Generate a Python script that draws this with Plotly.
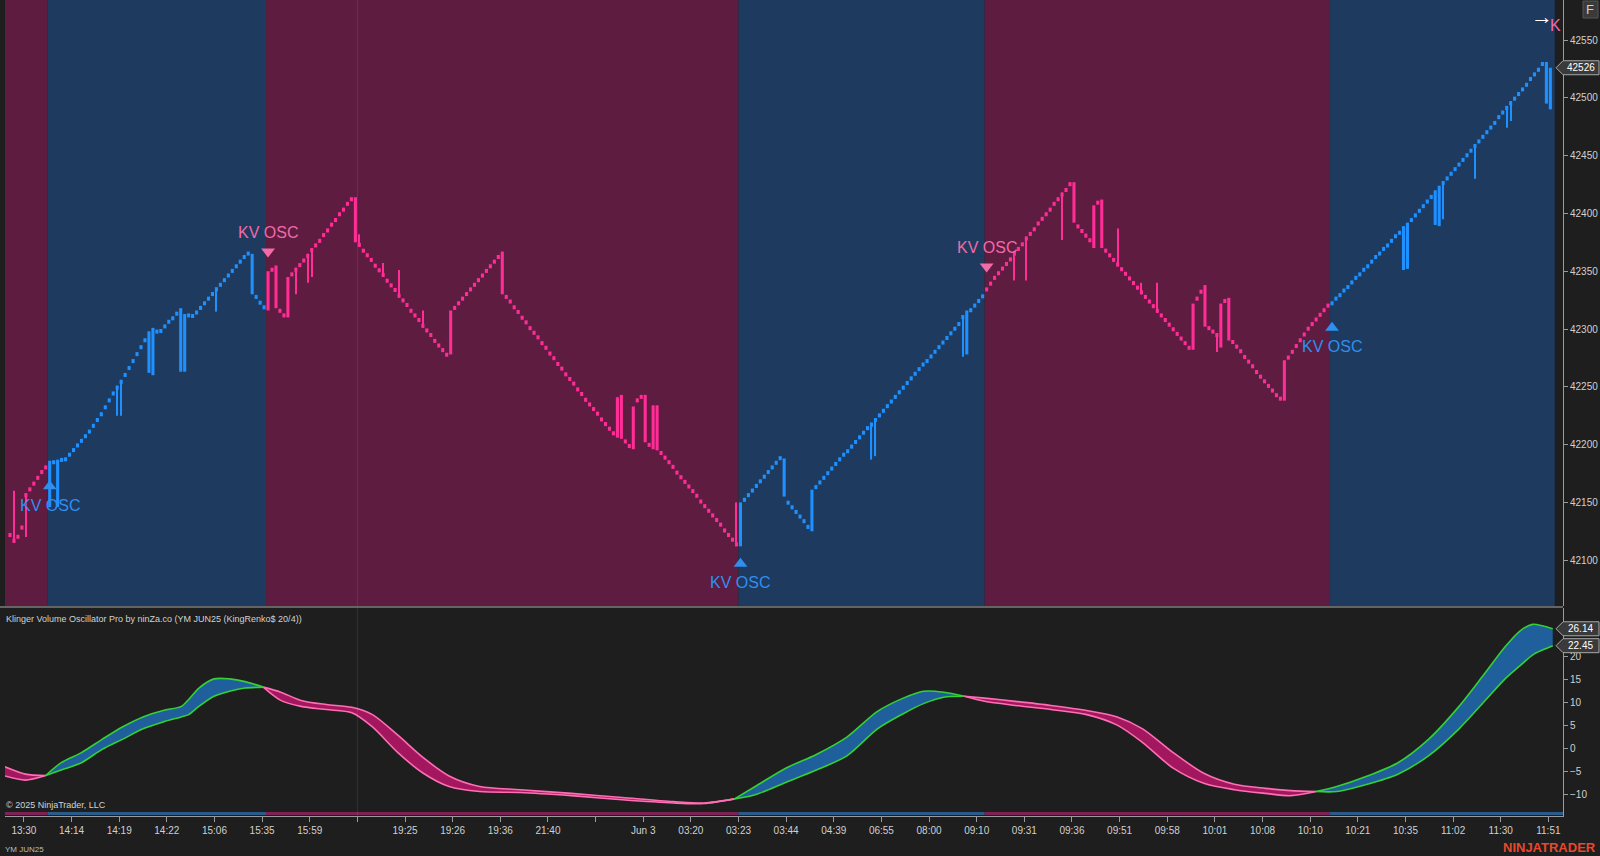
import plotly.graph_objects as go

# ---------------- DATA ----------------
# Renko (KingRenko) closes, one per bar
closes = [
    # zone 1 (sell)
    42120, 42115, 42122, 42130, 42158, 42163, 42168, 42173, 42178, 42182,
    # zone 2 (buy)
    42186, 42183, 42187, 42185, 42189, 42193, 42197, 42201, 42205, 42209,
    42213, 42218, 42223, 42228, 42234, 42240, 42246, 42251, 42256, 42262,
    42268, 42274, 42280, 42286, 42292, 42298, 42301, 42296, 42300, 42304,
    42308, 42311, 42315, 42318, 42313, 42310, 42313, 42316, 42320, 42324,
    42328, 42332, 42336, 42340, 42344, 42348, 42352, 42356, 42360, 42364,
    42367, 42330, 42326, 42321, 42317,
    # zone 3 (sell)
    42350, 42353, 42318, 42314, 42310, 42345, 42349, 42353, 42357, 42361,
    42365, 42370, 42374, 42378, 42383, 42387, 42392, 42396, 42401, 42405,
    42410, 42414, 42375, 42371, 42366, 42362, 42358, 42353, 42349, 42345,
    42340, 42336, 42332, 42327, 42323, 42319, 42314, 42310, 42306, 42301,
    42297, 42293, 42288, 42284, 42280, 42276, 42316, 42320, 42324, 42328,
    42332, 42336, 42340, 42344, 42348, 42352, 42356, 42360, 42364, 42330,
    42326, 42322, 42317, 42313, 42308, 42304, 42299, 42295, 42291, 42286,
    42282, 42277, 42273, 42268, 42264, 42259, 42255, 42251, 42246, 42242,
    42237, 42233, 42229, 42225, 42220, 42216, 42212, 42208, 42241, 42205,
    42201, 42197, 42233, 42240, 42243, 42202, 42198, 42234, 42195, 42191,
    42187, 42183, 42179, 42174, 42170, 42166, 42162, 42158, 42154, 42149,
    42145, 42141, 42137, 42133, 42129, 42124, 42120, 42116, 42112,
    # zone 4 (buy)
    42150, 42154, 42158, 42162, 42166, 42170, 42174, 42178, 42182, 42186,
    42190, 42155, 42148, 42144, 42140, 42136, 42132, 42127, 42161, 42165,
    42169, 42173, 42177, 42181, 42185, 42189, 42193, 42196, 42200, 42204,
    42208, 42212, 42216, 42219, 42223, 42227, 42231, 42235, 42239, 42243,
    42247, 42251, 42255, 42259, 42263, 42267, 42271, 42274, 42278, 42282,
    42286, 42290, 42294, 42298, 42302, 42306, 42312, 42316, 42318, 42322,
    42326, 42330,
    # zone 5 (sell)
    42336, 42341, 42346, 42350, 42354, 42358, 42362, 42367, 42371, 42375,
    42380, 42384, 42388, 42393, 42397, 42401, 42405, 42410, 42414, 42418,
    42422, 42427, 42392, 42387, 42383, 42379, 42375, 42407, 42411, 42370,
    42366, 42362, 42358, 42354, 42350, 42346, 42342, 42338, 42334, 42330,
    42326, 42322, 42318, 42314, 42310, 42306, 42302, 42298, 42294, 42290,
    42286, 42282, 42322, 42328, 42334, 42302, 42299, 42296, 42293, 42322,
    42326, 42290, 42287, 42283, 42279, 42274, 42270, 42266, 42261, 42257,
    42253, 42249, 42245, 42241, 42238, 42273, 42277, 42282, 42287, 42292,
    42297, 42302, 42306, 42310, 42314, 42318, 42322,
    # zone 6 (buy)
    42324, 42328, 42331, 42335, 42338, 42342, 42346, 42349, 42353, 42356,
    42360, 42364, 42367, 42371, 42374, 42378, 42382, 42385, 42389, 42392,
    42396, 42400, 42404, 42408, 42412, 42416, 42420, 42424, 42428, 42432,
    42436, 42440, 42444, 42448, 42452, 42456, 42460, 42464, 42468, 42472,
    42476, 42480, 42485, 42489, 42493, 42497, 42501, 42505, 42509, 42513,
    42518, 42522, 42526, 42531, 42495, 42526,
]
brick_size = 3.5
# bars whose body is longer than one brick: bar index / open price
long_idx = [10, 12, 35, 36, 43, 44, 61, 65, 67, 70, 87, 111, 124, 153, 154, 157,
            160, 162, 163, 184, 195, 202, 241, 268, 273, 275, 298, 301, 305, 307,
            321, 351, 352, 359, 360, 387, 388]
long_open = [42146, 42146, 42262, 42260, 42263, 42263, 42365, 42316, 42355, 42310,
             42414, 42278, 42367, 42206, 42243, 42196, 42243, 42196, 42234, 42112,
             42188, 42125, 42278, 42427, 42370, 42412, 42282, 42338, 42284, 42327,
             42238, 42351, 42352, 42390, 42389, 42531, 42490]
# bars with long wicks: bar index / wick end price
wick_idx = [1, 4, 27, 28, 52, 72, 75, 76, 88, 94, 98, 104, 183, 217, 218, 240,
            253, 256, 265, 279, 285, 289, 304, 361, 369, 377, 378]
wick_end = [42160, 42120, 42225, 42225, 42315, 42330, 42340, 42345, 42382, 42357,
            42351, 42316, 42150, 42187, 42190, 42276, 42342, 42342, 42377, 42387,
            42340, 42340, 42280, 42395, 42430, 42474, 42480]

# trend zones (first bar of each zone)
zone_start = [0, 10, 65, 184, 246, 333]
zone_kind = ["sell", "buy", "sell", "buy", "sell", "buy"]

# KV OSC signals
signal_idx = [10, 65, 184, 246, 333]
signal_kind = ["buy", "sell", "buy", "sell", "buy"]
signal_price = [42164, 42367, 42097, 42354, 42301]

# Klinger oscillator (fast line / signal line) sampled at bar positions
osc_x = [-1.3, 3.9, 9.0, 12.9, 18.0, 23.2, 28.3, 33.5, 38.6, 43.2, 45.0, 47.6, 51.4,
         55.3, 59.2, 63.8, 68.2, 73.3, 79.7, 86.1, 91.3, 97.7, 104.1, 110.6, 118.3,
         128.5, 141.4, 154.2, 167.1, 174.8, 182.5, 187.7, 195.4, 203.1, 210.8, 218.5,
         225.0, 230.1, 235.2, 240.4, 245.5, 253.2, 262.2, 271.2, 278.9, 285.3, 293.0,
         300.7, 308.4, 316.2, 322.6, 329.0, 334.2, 341.9, 349.6, 357.3, 365.0, 371.4,
         376.6, 380.4, 383.5, 386.0, 388.6]
osc_fast = [-6.0, -6.9, -5.9, -3.1, -0.9, 2.0, 4.7, 6.9, 8.3, 9.2, 10.7, 13.2, 15.2,
            15.2, 14.6, 13.4, 10.5, 9.2, 8.5, 7.8, 4.7, -0.9, -5.4, -8.3, -9.4,
            -9.6, -10.3, -11.2, -11.9, -12.0, -11.0, -8.3, -4.3, -1.3, 2.5, 8.1,
            11.0, 12.5, 12.3, 11.4, 10.3, 9.4, 8.5, 7.4, 5.1, 1.3, -4.3,
            -7.6, -9.0, -9.8, -10.3, -9.4, -8.3, -6.0, -3.1, 2.0, 9.2, 16.3,
            22.2, 25.7, 27.1, 26.8, 26.14]
osc_signal = [-4.0, -5.6, -5.9, -4.7, -3.1, -0.2, 2.0, 4.3, 5.8, 6.9, 7.4, 9.2, 11.4,
              12.5, 13.2, 13.4, 12.3, 10.5, 9.6, 9.0, 7.4, 2.9, -2.0, -6.0, -8.3,
              -9.0, -9.8, -10.7, -11.6, -11.9, -11.0, -10.1, -7.4, -4.7, -1.6, 4.3,
              7.6, 9.8, 11.2, 11.4, 11.0, 10.3, 9.4, 8.3, 6.9, 4.3, -0.9,
              -5.4, -7.8, -8.7, -9.2, -9.4, -9.4, -7.8, -5.6, -1.6, 4.3, 10.3,
              15.2, 18.1, 20.4, 21.5, 22.45]

price_ticks = [42100, 42150, 42200, 42250, 42300, 42350, 42400, 42450, 42500, 42550]
osc_ticks = [-10, -5, 0, 5, 10, 15, 20]
time_labels = ["13:30", "14:14", "14:19", "14:22", "15:06", "15:35", "15:59", "",
               "19:25", "19:26", "19:36", "21:40", "", "Jun 3", "03:20", "03:23",
               "03:44", "04:39", "06:55", "08:00", "09:10", "09:31", "09:36", "09:51",
               "09:58", "10:01", "10:08", "10:10", "10:21", "10:35", "11:02", "11:30",
               "11:51"]
session_break_idx = 87.5
last_price = 42526
last_fast = 26.14
last_signal = 22.45

# ---------------- STYLE ----------------
BG = "#1e1e1e"
ZONE_BG = {"buy": "#1e3a5e", "sell": "#5d1c40"}
STRIP = {"buy": "#2a5b8a", "sell": "#7d2255"}
BRICK = {"buy": "#1e90ff", "sell": "#ff2d95"}
SIG = {"buy": "#2f8ff0", "sell": "#f26aa8"}
FONT = "Liberation Sans, Arial, sans-serif"

W, H = 1600, 856
ML, MR, MT, MB = 5, 37, 0, 40
PW, PH = W - ML - MR, H - MT - MB          # 1558 x 816
X0, DX = 10.0, 3.97                        # px of bar 0, px per bar


def px_to_idx(p):
    return (p - X0) / DX


def px_to_paperx(p):
    return (p - ML) / PW


def px_to_papery(p):
    return (PH - (p - MT)) / PH


x_range = [px_to_idx(ML), px_to_idx(ML + PW)]
top_dom = [(PH - 606) / PH, 1.0]
bot_dom = [0.0, (PH - 608) / PH]
ppp = 1.156                                # px per price point
y_range = [42550 - (606 - 40) / ppp, 42550 + 40 / ppp]
opu = 4.58                                 # px per osc unit
zero_px = 748.5
y2_range = [-(816 - zero_px) / opu, (zero_px - 608) / opu]

n = len(closes)
idx = list(range(n))


def zone_of(i):
    k = 0
    for j, s in enumerate(zone_start):
        if i >= s:
            k = j
    return zone_kind[k]


opens = []
for i, c in enumerate(closes):
    prev = closes[i - 1] if i else c + brick_size
    d = 1 if c >= prev else -1
    opens.append(c - d * brick_size)
for i, o in zip(long_idx, long_open):
    opens[i] = o

body_lo = [min(o, c) for o, c in zip(opens, closes)]
body_hi = [max(o, c) for o, c in zip(opens, closes)]
colors = [BRICK[zone_of(i)] for i in idx]

fig = go.Figure()

# bodies
fig.add_trace(go.Bar(x=idx, y=[h - l for h, l in zip(body_hi, body_lo)], base=body_lo,
                     width=0.78, marker=dict(color=colors, line=dict(width=0)),
                     xaxis="x", yaxis="y", hoverinfo="skip", showlegend=False))
# wicks
w_lo = [min(body_lo[i], e) for i, e in zip(wick_idx, wick_end)]
w_hi = [max(body_hi[i], e) for i, e in zip(wick_idx, wick_end)]
fig.add_trace(go.Bar(x=wick_idx, y=[h - l for h, l in zip(w_hi, w_lo)], base=w_lo,
                     width=0.3, marker=dict(color=[colors[i] for i in wick_idx], line=dict(width=0)),
                     xaxis="x", yaxis="y", hoverinfo="skip", showlegend=False))

# signal triangles
for kind in ("buy", "sell"):
    xs = [i for i, k in zip(signal_idx, signal_kind) if k == kind]
    ys = [p for p, k in zip(signal_price, signal_kind) if k == kind]
    fig.add_trace(go.Scatter(x=xs, y=ys, mode="markers", xaxis="x", yaxis="y",
                             marker=dict(symbol="triangle-up" if kind == "buy" else "triangle-down",
                                         size=12, color=SIG[kind], line=dict(width=0)),
                             hoverinfo="skip", showlegend=False))

# oscillator ribbon, split at crossings
cross = [k for k in range(len(osc_x)) if abs(osc_fast[k] - osc_signal[k]) < 1e-9]
bounds = sorted(set([0] + cross + [len(osc_x) - 1]))
for a, b in zip(bounds[:-1], bounds[1:]):
    xs = osc_x[a:b + 1]
    f = osc_fast[a:b + 1]
    s = osc_signal[a:b + 1]
    up = sum(fv - sv for fv, sv in zip(f, s)) > 0
    lc = "#35d035" if up else "#ff6eb4"
    fc = "#1f5f9c" if up else "#a3175e"
    fig.add_trace(go.Scatter(x=xs, y=s, mode="lines", line=dict(color=lc, width=1.6, shape="spline", smoothing=0.8),
                             xaxis="x2", yaxis="y2", hoverinfo="skip", showlegend=False))
    fig.add_trace(go.Scatter(x=xs, y=f, mode="lines", line=dict(color=lc, width=1.6, shape="spline", smoothing=0.8),
                             fill="tonexty", fillcolor=fc,
                             xaxis="x2", yaxis="y2", hoverinfo="skip", showlegend=False))

shapes = []
# zone backgrounds + bottom strip
edges = zone_start + [n]
for j, kind in enumerate(zone_kind):
    x0 = edges[j] - 0.5 if j else x_range[0] - 1
    last = j + 1 == len(zone_kind)
    x1 = n + 0.1 if last else edges[j + 1] - 0.5
    shapes.append(dict(type="rect", xref="x", yref="y domain", x0=x0, x1=x1, y0=0, y1=1,
                       fillcolor=ZONE_BG[kind], line=dict(width=0), layer="below"))
    shapes.append(dict(type="rect", xref="x2", yref="y2 domain", x0=x0, x1=x_range[1] if last else x1,
                       y0=1 / 208, y1=4 / 208, fillcolor=STRIP[kind], line=dict(width=0), layer="above"))
# session break
shapes.append(dict(type="line", xref="x", yref="paper", x0=session_break_idx, x1=session_break_idx,
                   y0=0, y1=1, line=dict(color="rgba(255,255,255,0.09)", width=1), layer="above"))
# panel separator
sep_y = px_to_papery(607)
shapes.append(dict(type="line", xref="paper", yref="paper", x0=px_to_paperx(0), x1=1,
                   y0=sep_y, y1=sep_y, line=dict(color="#7c7c7c", width=1.5)))


def tag(yref, val, half):
    xt, xl, xr = px_to_paperx(1556), px_to_paperx(1563), px_to_paperx(1599)
    return dict(type="path", xref="paper", yref=yref,
                path=f"M {xt},{val} L {xl},{val + half} L {xr},{val + half} L {xr},{val - half} L {xl},{val - half} Z",
                fillcolor="#3a3a3a", line=dict(color="#a8a8a8", width=1))


shapes.append(tag("y", last_price, 7 / ppp))
shapes.append(tag("y2", last_fast, 7 / opu))
shapes.append(tag("y2", last_signal, 7 / opu))
# "F" button box at the top-right corner
shapes.append(dict(type="rect", xref="paper", yref="paper",
                   x0=px_to_paperx(1583), x1=px_to_paperx(1598),
                   y0=px_to_papery(18), y1=px_to_papery(1),
                   fillcolor="#3a3a3a", line=dict(color="#555555", width=1)))


def ann(x, y, text, size, color, xanchor="center", xref="paper", yref="paper", **kw):
    d = dict(x=x, y=y, xref=xref, yref=yref, text=text, showarrow=False,
             xanchor=xanchor, yanchor="middle", font=dict(family=FONT, size=size, color=color))
    d.update(kw)
    return d


annotations = []
for i, k, p in zip(signal_idx, signal_kind, signal_price):
    annotations.append(ann(i, p, "KV OSC", 16, SIG[k], xref="x", yref="y",
                           yshift=-19 if k == "buy" else 19))
for yref, val, txt in (("y", last_price, f"{last_price}"), ("y2", last_fast, f"{last_fast:.2f}"),
                       ("y2", last_signal, f"{last_signal:.2f}")):
    annotations.append(ann(px_to_paperx(1581), val, txt, 10, "#ffffff", yref=yref))
annotations += [
    ann(px_to_paperx(4), px_to_papery(619),
        "Klinger Volume Oscillator Pro by ninZa.co (YM JUN25 (KingRenko$ 20/4))", 9, "#d2d2d2", xanchor="left"),
    ann(px_to_paperx(4), px_to_papery(805), "© 2025 NinjaTrader, LLC", 9, "#d2d2d2", xanchor="left"),
    ann(px_to_paperx(3), px_to_papery(849), "YM JUN25", 8, "#bdbdbd", xanchor="left"),
    ann(px_to_paperx(1598), px_to_papery(847), "<b>NINJATRADER</b>", 13, "#e8482c", xanchor="right"),
    ann(px_to_paperx(1590.5), px_to_papery(9.5), "F", 13, "#d0d0d0"),
    ann(px_to_paperx(1542), px_to_papery(16), "→", 22, "#ffffff"),
    ann(px_to_paperx(1555), px_to_papery(25), "K", 16, SIG["sell"]),
]

axis_common = dict(showgrid=False, zeroline=False)
fig.update_layout(
    width=W, height=H, margin=dict(l=ML, r=MR, t=MT, b=MB),
    paper_bgcolor=BG, plot_bgcolor=BG, barmode="overlay", showlegend=False,
    hovermode=False, font=dict(family=FONT, color="#d0d0d0"),
    xaxis=dict(domain=[0, 1], anchor="y", range=x_range, showticklabels=False, ticks="",
               matches="x2", **axis_common),
    xaxis2=dict(domain=[0, 1], anchor="y2", range=x_range,
                tickvals=[3.5 + 12 * k for k in range(len(time_labels))], ticktext=time_labels,
                ticks="outside", ticklen=5, tickcolor="#9a9a9a", showline=True, linecolor="#9a9a9a",
                tickfont=dict(family=FONT, size=10, color="#d0d0d0"), **axis_common),
    yaxis=dict(domain=top_dom, anchor="x", side="right", range=y_range, tickvals=price_ticks,
               tickformat="d", ticks="outside", ticklen=4, tickcolor="#9a9a9a", showline=True,
               linecolor="#9a9a9a", tickfont=dict(family=FONT, size=10, color="#d0d0d0"), **axis_common),
    yaxis2=dict(domain=bot_dom, anchor="x2", side="right", range=y2_range, tickvals=osc_ticks,
                ticks="outside", ticklen=4, tickcolor="#9a9a9a", showline=True, linecolor="#9a9a9a",
                tickfont=dict(family=FONT, size=10, color="#d0d0d0"), **axis_common),
    shapes=shapes, annotations=annotations,
)

fig.write_html("out.html")
